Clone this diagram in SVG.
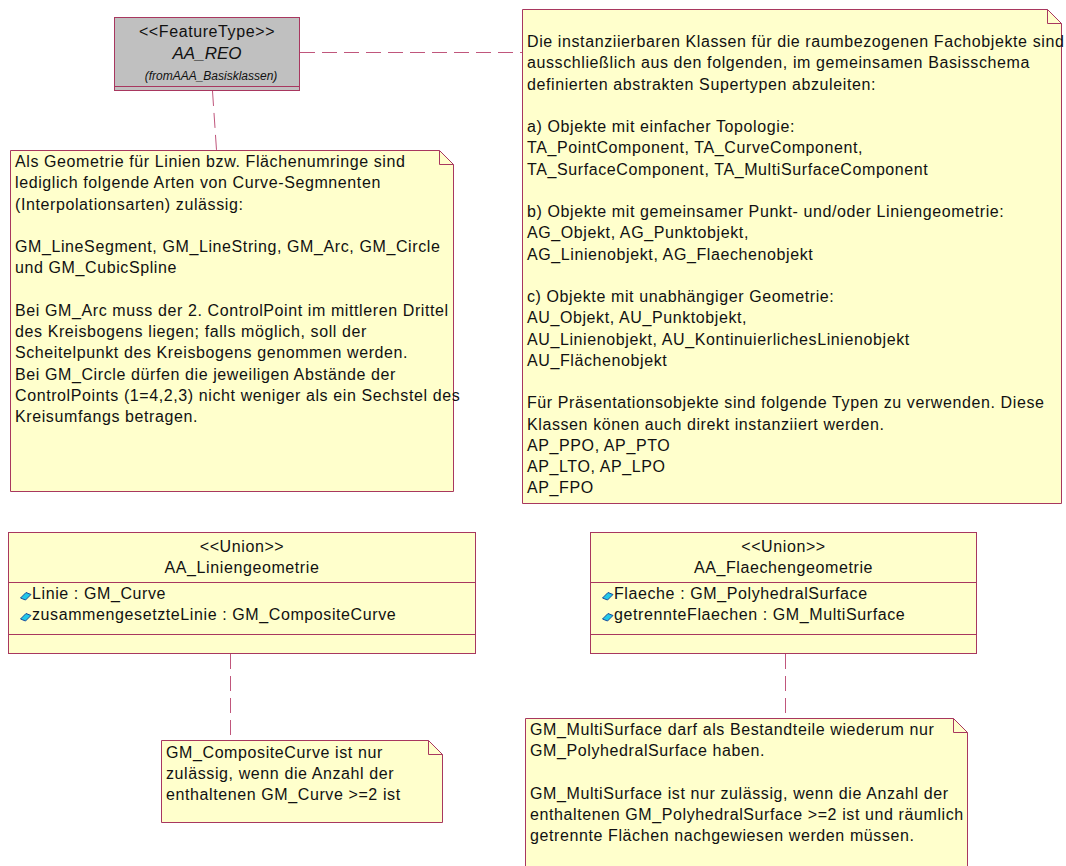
<svg xmlns="http://www.w3.org/2000/svg" width="1066" height="866" viewBox="0 0 1066 866">
<style>
.bg{fill:#ffffff}
.note{fill:#ffffcc;stroke:#a8375f;stroke-width:1}
.fold{fill:none;stroke:#a8375f;stroke-width:1}
.cls{fill:#ffffcc;stroke:#a8375f;stroke-width:1}
.ft{fill:#c0c0c0;stroke:#a8375f;stroke-width:1}
.sep{stroke:#a8375f;stroke-width:1}
.t{font-family:"Liberation Sans",Arial,sans-serif;font-size:16px;fill:#111;letter-spacing:0.6px}
.c{text-anchor:middle}
.i{font-style:italic}
.s{font-size:12px;letter-spacing:0}
.conn{stroke:#c0567c;stroke-width:1;stroke-dasharray:15 7;fill:none}
.icon{fill:#22c8e8;stroke:#1a4a9a;stroke-width:1}
</style>
<rect class="bg" x="0" y="0" width="1066" height="866"/>

<g id="connectors">
<line class="conn" x1="300" y1="52.5" x2="522" y2="52.5"/>
<line class="conn" x1="212.5" y1="91" x2="216.5" y2="150"/>
<line class="conn" x1="230.5" y1="654" x2="230.5" y2="740"/>
<line class="conn" x1="785.5" y1="654" x2="785.5" y2="718"/>
</g>

<g id="AA_REO">
<rect class="ft" x="114.5" y="17.5" width="185" height="73"/>
<line class="sep" x1="114.5" y1="86.5" x2="299.5" y2="86.5"/>
<text class="t c" x="207" y="37">&lt;&lt;FeatureType&gt;&gt;</text>
<text class="t c i" x="207" y="59" style="font-size:17px;letter-spacing:0">AA_REO</text>
<text class="t c i s" x="211" y="80">(fromAAA_Basisklassen)</text>
</g>

<g id="note_supertypen">
<path class="note" d="M522.5,9.5 H1047.5 L1061.5,23.5 V503.5 H522.5 Z"/>
<path class="fold" d="M1047.5,9.5 V23.5 H1061.5"/>
<text class="t">
<tspan x="527" y="47">Die instanziierbaren Klassen für die raumbezogenen Fachobjekte sind</tspan>
<tspan x="527" y="68">ausschließlich aus den folgenden, im gemeinsamen Basisschema</tspan>
<tspan x="527" y="90">definierten abstrakten Supertypen abzuleiten:</tspan>
<tspan x="527" y="132">a) Objekte mit einfacher Topologie:</tspan>
<tspan x="527" y="153">TA_PointComponent, TA_CurveComponent,</tspan>
<tspan x="527" y="175">TA_SurfaceComponent, TA_MultiSurfaceComponent</tspan>
<tspan x="527" y="217">b) Objekte mit gemeinsamer Punkt- und/oder Liniengeometrie:</tspan>
<tspan x="527" y="238">AG_Objekt, AG_Punktobjekt,</tspan>
<tspan x="527" y="260">AG_Linienobjekt, AG_Flaechenobjekt</tspan>
<tspan x="527" y="302">c) Objekte mit unabhängiger Geometrie:</tspan>
<tspan x="527" y="323">AU_Objekt, AU_Punktobjekt,</tspan>
<tspan x="527" y="345">AU_Linienobjekt, AU_KontinuierlichesLinienobjekt</tspan>
<tspan x="527" y="366">AU_Flächenobjekt</tspan>
<tspan x="527" y="408">Für Präsentationsobjekte sind folgende Typen zu verwenden. Diese</tspan>
<tspan x="527" y="430">Klassen könen auch direkt instanziiert werden.</tspan>
<tspan x="527" y="451">AP_PPO, AP_PTO</tspan>
<tspan x="527" y="472">AP_LTO, AP_LPO</tspan>
<tspan x="527" y="493">AP_FPO</tspan>
</text>
</g>

<g id="note_geometrie">
<path class="note" d="M10.5,150.5 H439.5 L453.5,164.5 V491.5 H10.5 Z"/>
<path class="fold" d="M439.5,150.5 V164.5 H453.5"/>
<text class="t">
<tspan x="15" y="167">Als Geometrie für Linien bzw. Flächenumringe sind</tspan>
<tspan x="15" y="188">lediglich folgende Arten von Curve-Segmnenten</tspan>
<tspan x="15" y="210">(Interpolationsarten) zulässig:</tspan>
<tspan x="15" y="252">GM_LineSegment, GM_LineString, GM_Arc, GM_Circle</tspan>
<tspan x="15" y="273">und GM_CubicSpline</tspan>
<tspan x="15" y="316">Bei GM_Arc muss der 2. ControlPoint im mittleren Drittel</tspan>
<tspan x="15" y="337">des Kreisbogens liegen; falls möglich, soll der</tspan>
<tspan x="15" y="358">Scheitelpunkt des Kreisbogens genommen werden.</tspan>
<tspan x="15" y="380">Bei GM_Circle dürfen die jeweiligen Abstände der</tspan>
<tspan x="15" y="401">ControlPoints (1=4,2,3) nicht weniger als ein Sechstel des</tspan>
<tspan x="15" y="422">Kreisumfangs betragen.</tspan>
</text>
</g>

<g id="AA_Liniengeometrie">
<rect class="cls" x="8.5" y="532.5" width="467" height="121"/>
<line class="sep" x1="8.5" y1="582.5" x2="475.5" y2="582.5"/>
<line class="sep" x1="8.5" y1="634.5" x2="475.5" y2="634.5"/>
<text class="t c" x="242" y="552">&lt;&lt;Union&gt;&gt;</text>
<text class="t c" x="242" y="573">AA_Liniengeometrie</text>
<polygon class="icon" points="20.5,598 26,592.5 31,594.5 25.5,600"/>
<text class="t" x="32" y="599">Linie : GM_Curve</text>
<polygon class="icon" points="20.5,619 26,613.5 31,615.5 25.5,621"/>
<text class="t" x="32" y="620">zusammengesetzteLinie : GM_CompositeCurve</text>
</g>

<g id="AA_Flaechengeometrie">
<rect class="cls" x="590.5" y="532.5" width="386" height="121"/>
<line class="sep" x1="590.5" y1="582.5" x2="976.5" y2="582.5"/>
<line class="sep" x1="590.5" y1="634.5" x2="976.5" y2="634.5"/>
<text class="t c" x="783.5" y="552">&lt;&lt;Union&gt;&gt;</text>
<text class="t c" x="783.5" y="573">AA_Flaechengeometrie</text>
<polygon class="icon" points="602.5,598 608,592.5 613,594.5 607.5,600"/>
<text class="t" x="614" y="599">Flaeche : GM_PolyhedralSurface</text>
<polygon class="icon" points="602.5,619 608,613.5 613,615.5 607.5,621"/>
<text class="t" x="614" y="620">getrennteFlaechen : GM_MultiSurface</text>
</g>

<g id="note_compositecurve">
<path class="note" d="M161.5,740.5 H428.5 L442.5,754.5 V822.5 H161.5 Z"/>
<path class="fold" d="M428.5,740.5 V754.5 H442.5"/>
<text class="t">
<tspan x="166" y="758">GM_CompositeCurve ist nur</tspan>
<tspan x="166" y="779">zulässig, wenn die Anzahl der</tspan>
<tspan x="166" y="800">enthaltenen GM_Curve &gt;=2 ist</tspan>
</text>
</g>

<g id="note_multisurface">
<path class="note" d="M525.5,718.5 H953.5 L967.5,732.5 V880 H525.5 Z"/>
<path class="fold" d="M953.5,718.5 V732.5 H967.5"/>
<text class="t">
<tspan x="530" y="735">GM_MultiSurface darf als Bestandteile wiederum nur</tspan>
<tspan x="530" y="756">GM_PolyhedralSurface haben.</tspan>
<tspan x="530" y="799">GM_MultiSurface ist nur zulässig, wenn die Anzahl der</tspan>
<tspan x="530" y="820">enthaltenen GM_PolyhedralSurface &gt;=2 ist und räumlich</tspan>
<tspan x="530" y="841">getrennte Flächen nachgewiesen werden müssen.</tspan>
</text>
</g>
</svg>
